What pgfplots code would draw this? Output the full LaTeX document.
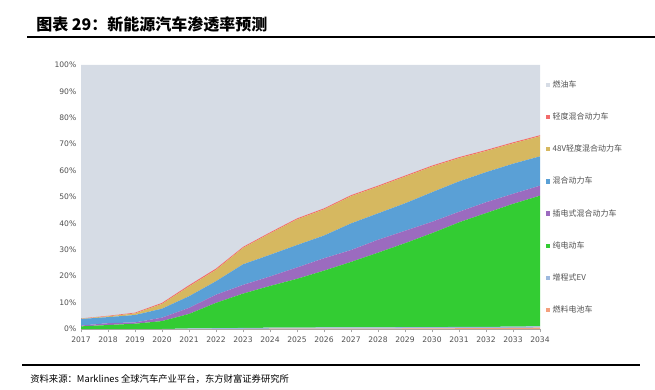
\documentclass[border=0pt]{standalone}
\usepackage{pgfplots}
\pgfplotsset{compat=1.18}
\usepackage{fontspec}
\setmainfont{DejaVu Sans}
\newfontfamily\cjk{Noto Sans CJK SC}
\definecolor{cICE}{HTML}{D6DCE5}
\definecolor{cMHEV}{HTML}{F26B6B}
\definecolor{cV48}{HTML}{D6B860}
\definecolor{cHEV}{HTML}{5AA0D6}
\definecolor{cPHEV}{HTML}{9B6BBF}
\definecolor{cBEV}{HTML}{33CC33}
\definecolor{cEREV}{HTML}{9DB9DE}
\definecolor{cFC}{HTML}{F4A07D}
\definecolor{tickgray}{HTML}{505050}
\begin{document}
\begin{tikzpicture}
\begin{scope}[x=0.75pt,y=0.75pt]
\useasboundingbox (0,0) rectangle (655,389);
\node[anchor=west,inner sep=0pt] at (36,365) {\cjk\bfseries\fontsize{12}{14}\selectfont 图表 29：新能源汽车渗透率预测};
\draw[black,line width=0.8pt] (27,352) -- (655,352);
\draw[black,line width=0.8pt] (22,24) -- (640,24);
\node[anchor=west,inner sep=0pt] at (30,10) {\cjk\fontsize{7}{8}\selectfont 资料来源：Marklines 全球汽车产业平台，东方财富证券研究所};
\end{scope}
\begin{axis}[
  at={(60.75pt,45pt)}, anchor=south west,
  scale only axis, width=344.25pt, height=198pt,
  xmin=2017, xmax=2034, ymin=0, ymax=100,
  stack plots=y,
  axis x line*=bottom, axis y line*=left,
  axis line style={draw=gray!70},
  xtick={2017,...,2034},
  ytick={0,10,...,100},
  x tick label style={/pgf/number format/1000 sep={}},
  yticklabel={\pgfmathprintnumber{\tick}\%},
  tick label style={font=\fontsize{5.7}{6}\selectfont, text=tickgray},
  /pgf/number format/assume math mode=true,
  xtick align=outside, major tick length=2.5pt,
  ytick style={draw=none}, xtick style={draw=gray!70},
  clip=false,
  reverse legend,
  legend style={at={(1.012,0.953)}, anchor=north west, draw=none, fill=none,
    font=\cjk\fontsize{6}{7}\selectfont, text=tickgray, row sep=13.6pt,
    inner sep=0pt},
  legend cell align=left,
  legend image code/.code={\fill[#1] (0pt,-1.6pt) rectangle (3.2pt,1.6pt);},
  every axis plot/.append style={draw=none},
]
\addplot[fill=cFC] coordinates {(2017,0)(2018,0)(2019,0)(2020,0)(2021,0)(2022,0)(2023,0)(2024,0.1)(2025,0.1)(2026,0.1)(2027,0.1)(2028,0.1)(2029,0.2)(2030,0.2)(2031,0.3)(2032,0.3)(2033,0.4)(2034,0.5)} \closedcycle;
\addlegendentry{燃料电池车}
\addplot[fill=cEREV] coordinates {(2017,0)(2018,0)(2019,0)(2020,0)(2021,0.2)(2022,0.3)(2023,0.4)(2024,0.4)(2025,0.4)(2026,0.5)(2027,0.5)(2028,0.5)(2029,0.5)(2030,0.5)(2031,0.5)(2032,0.5)(2033,0.5)(2034,0.5)} \closedcycle;
\addlegendentry{增程式EV}
\addplot[fill=cBEV] coordinates {(2017,1.0)(2018,1.5)(2019,2.0)(2020,3.0)(2021,5.5)(2022,9.6)(2023,13.0)(2024,15.8)(2025,18.5)(2026,21.5)(2027,24.8)(2028,28.3)(2029,31.8)(2030,35.6)(2031,39.6)(2032,43.1)(2033,46.5)(2034,49.5)} \closedcycle;
\addlegendentry{纯电动车}
\addplot[fill=cPHEV] coordinates {(2017,0.3)(2018,0.7)(2019,0.5)(2020,1.3)(2021,2.3)(2022,3.1)(2023,3.3)(2024,3.6)(2025,4.3)(2026,4.7)(2027,4.5)(2028,4.9)(2029,4.7)(2030,4.3)(2031,4.0)(2032,4.1)(2033,3.8)(2034,3.8)} \closedcycle;
\addlegendentry{插电式混合动力车}
\addplot[fill=cHEV] coordinates {(2017,2.5)(2018,2.3)(2019,2.8)(2020,3.4)(2021,4.4)(2022,5.1)(2023,7.8)(2024,8.2)(2025,8.5)(2026,8.6)(2027,10.1)(2028,10.0)(2029,10.4)(2030,11.2)(2031,11.5)(2032,11.4)(2033,11.4)(2034,11.1)} \closedcycle;
\addlegendentry{混合动力车}
\addplot[fill=cV48] coordinates {(2017,0.1)(2018,0.3)(2019,0.6)(2020,1.8)(2021,3.7)(2022,4.3)(2023,6.2)(2024,8.1)(2025,9.7)(2026,9.9)(2027,10.3)(2028,10.1)(2029,10.1)(2030,9.7)(2031,8.8)(2032,8.0)(2033,7.7)(2034,7.6)} \closedcycle;
\addlegendentry{48V轻度混合动力车}
\addplot[fill=cMHEV] coordinates {(2017,0.1)(2018,0.2)(2019,0.3)(2020,0.4)(2021,0.5)(2022,0.5)(2023,0.4)(2024,0.4)(2025,0.4)(2026,0.4)(2027,0.4)(2028,0.4)(2029,0.4)(2030,0.4)(2031,0.4)(2032,0.4)(2033,0.4)(2034,0.4)} \closedcycle;
\addlegendentry{轻度混合动力车}
\addplot[fill=cICE] coordinates {(2017,96.0)(2018,95.0)(2019,93.8)(2020,90.1)(2021,83.4)(2022,77.1)(2023,68.9)(2024,63.4)(2025,58.1)(2026,54.3)(2027,49.3)(2028,45.7)(2029,41.9)(2030,38.1)(2031,34.9)(2032,32.2)(2033,29.3)(2034,26.6)} \closedcycle;
\addlegendentry{燃油车}
\end{axis}
\end{tikzpicture}
\end{document}
